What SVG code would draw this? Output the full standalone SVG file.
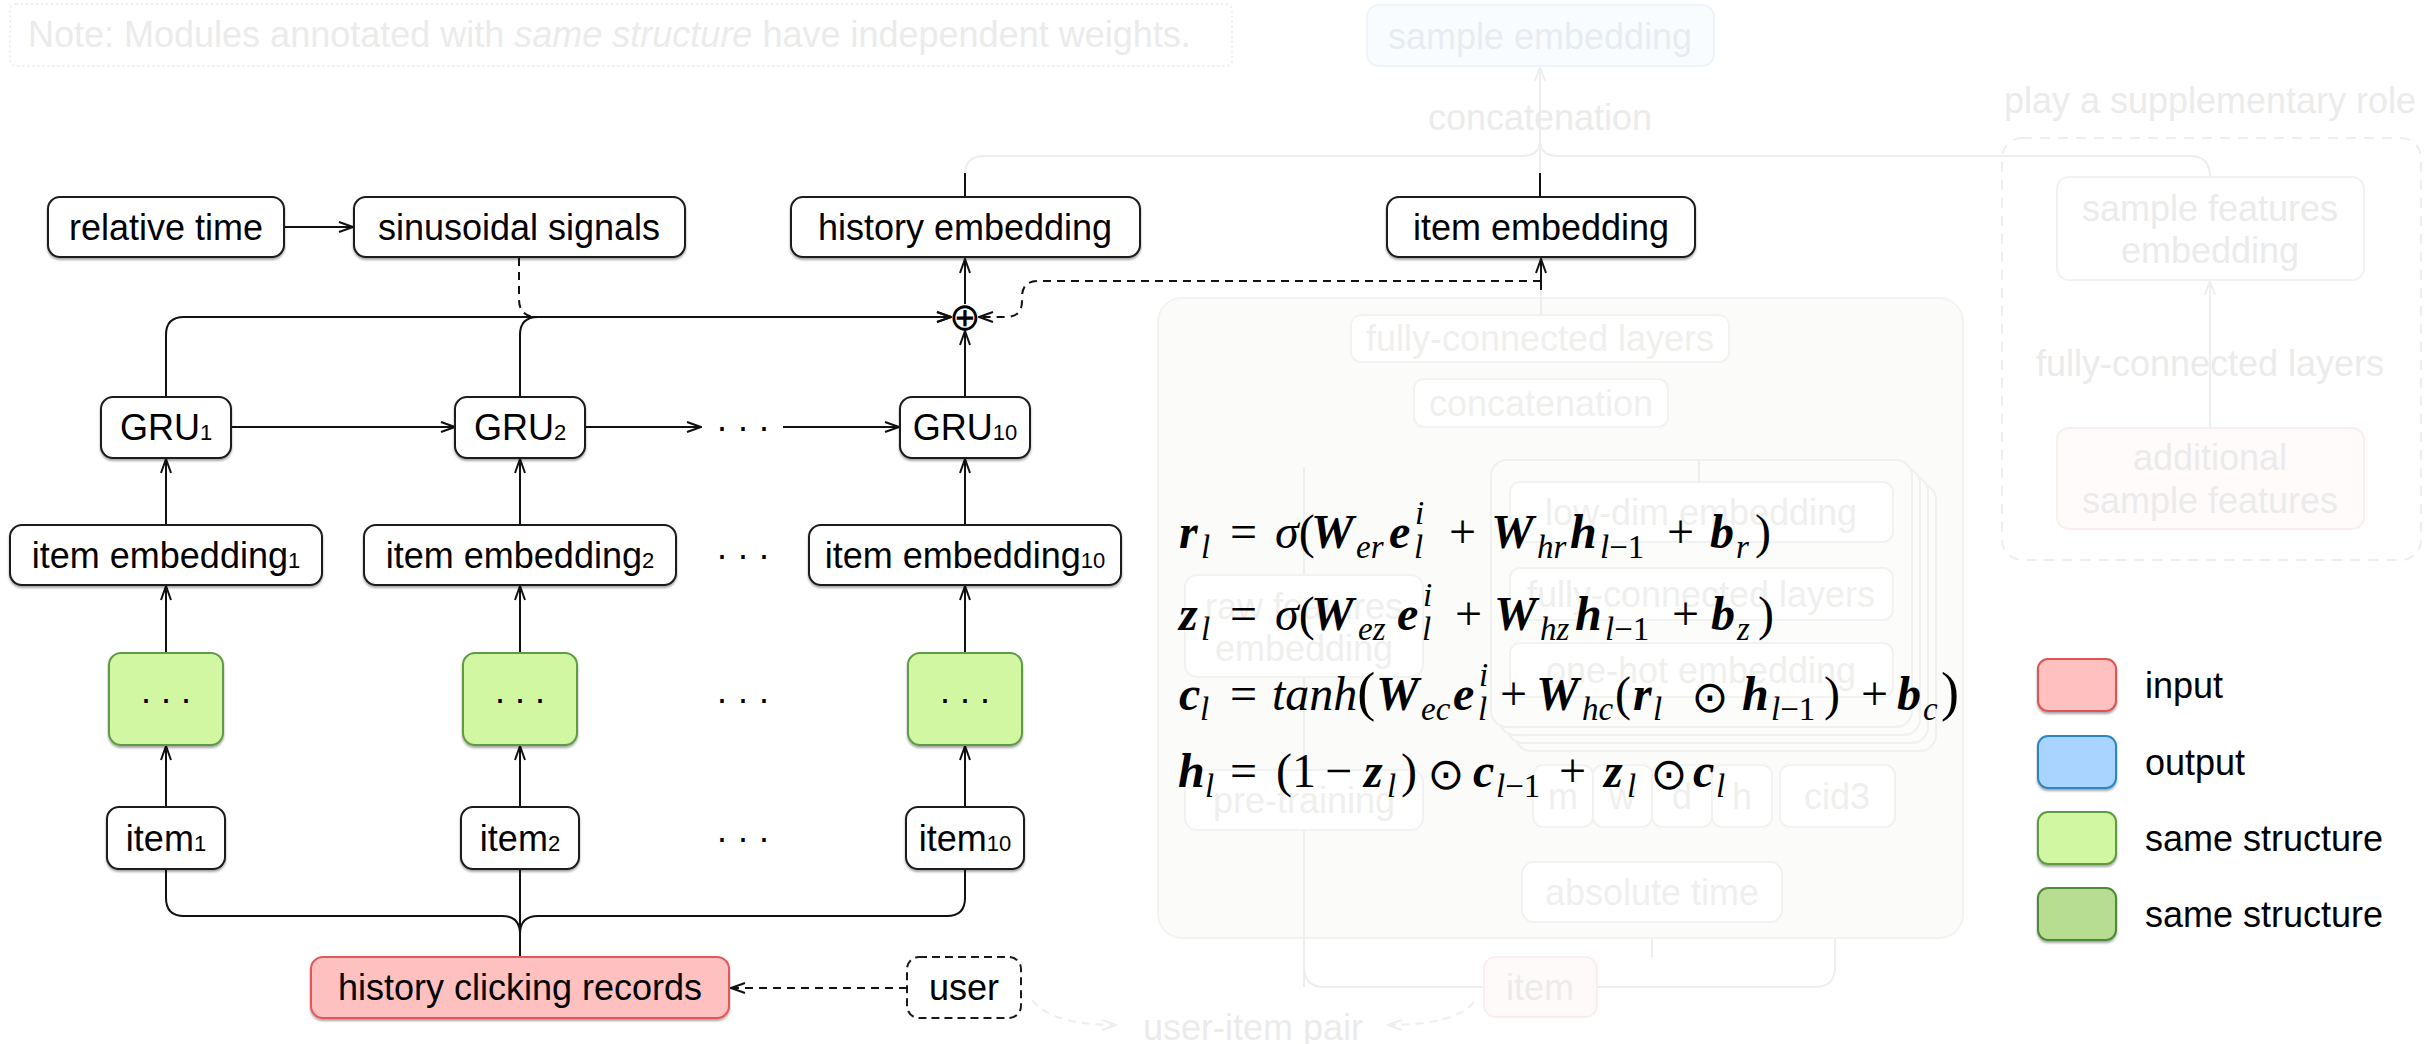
<svg xmlns="http://www.w3.org/2000/svg" width="2433" height="1044" viewBox="0 0 2433 1044">
<defs>
<style>
.t{font-family:"Liberation Sans",Arial,Helvetica,sans-serif;font-size:36px;fill:#000;text-anchor:middle}
.sub{font-size:22px}
.box{fill:#fff;stroke:#1a1a1a;stroke-width:2}
.sh{filter:url(#shadow)}
.green{fill:#d2f7a2;stroke:#5f9a44;stroke-width:2}
.red{fill:#ffc0c0;stroke:#e0585a;stroke-width:2}
.ln{fill:none;stroke:#111;stroke-width:2}
.arr{marker-end:url(#ah)}
.dash{stroke-dasharray:8 6}
.ft{font-family:"Liberation Sans",Arial,Helvetica,sans-serif;font-size:36px;fill:#ebebeb;text-anchor:middle}
.pt{fill:#efefed}
.fbox{fill:#fff;stroke:#f2f2f0;stroke-width:2}
.fln{fill:none;stroke:#eeeeee;stroke-width:2}
.farr{marker-end:url(#ahf)}
.m{font-family:"Liberation Serif","DejaVu Serif",serif;font-size:48px;fill:#000}
.bi{font-weight:bold;font-style:italic}
.it{font-style:italic}
.s{font-size:33px;font-style:italic;font-weight:normal}
.n{font-style:normal}
.op{font-family:"DejaVu Sans",sans-serif;font-size:44px;font-style:normal;font-weight:normal;text-anchor:middle}
</style>
<filter id="shadow" x="-10%" y="-20%" width="120%" height="150%">
<feDropShadow dx="0" dy="2" stdDeviation="1" flood-color="#000" flood-opacity="0.35"/>
</filter>
<marker id="ah" viewBox="0 0 16 12" refX="15" refY="6" markerWidth="16" markerHeight="12" orient="auto" markerUnits="userSpaceOnUse">
<path d="M1,1 L15,6 L1,11" fill="none" stroke="#111" stroke-width="2"/>
</marker>
<marker id="ahf" viewBox="0 0 16 12" refX="15" refY="6" markerWidth="16" markerHeight="12" orient="auto" markerUnits="userSpaceOnUse">
<path d="M1,1 L15,6 L1,11" fill="none" stroke="#eeeeee" stroke-width="2"/>
</marker>
</defs>

<rect x="0" y="0" width="2433" height="1044" fill="#fff"/>

<!-- faded context: note, sample embedding branch, feature panel -->
<g id="note">
<rect x="10" y="4" width="1222" height="62" rx="6" fill="none" stroke="#efefef" stroke-width="2" stroke-dasharray="2 3"/>
<text x="28" y="47" class="ft" style="text-anchor:start">Note: Modules annotated with <tspan font-style="italic">same structure</tspan> have independent weights.</text>
</g>

<g id="context-connectors">
<path class="fln" d="M965,175 Q965,156 984,156 H1522 Q1540,156 1540,140"/>
<path class="fln" d="M1540,140 Q1540,156 1558,156 H2190 Q2210,156 2210,177"/>
<path class="fln farr" d="M1540,173 V67"/>
<path class="fln" d="M1541,315 V290"/>
<path class="fln farr" d="M1541,379 V363"/>
<path class="fln" d="M1304,660 V467 Q1304,446 1325,446 H1521 Q1541,446 1541,428"/>
<path class="fln" d="M1541,428 Q1541,446 1561,446 H1680 Q1699,446 1699,465"/>
<path class="fln" d="M1484,987 H1324 Q1304,987 1304,967 V660"/>
<path class="fln farr" d="M1699,568 V543"/>
<path class="fln farr" d="M1699,643 V621"/>
<path class="fln" d="M1563,765 V735 Q1563,720 1578,720 H1637 Q1652,720 1652,710"/>
<path class="fln" d="M1742,765 V735 Q1742,720 1727,720 H1667 Q1652,720 1652,710"/>
<path class="fln" d="M1623,765 V720 M1682,765 V720"/>
<path class="fln farr" d="M1652,712 V698"/>
<path class="fln farr" d="M1835,765 V698"/>
<path class="fln" d="M1563,827 V832 Q1563,845 1578,845 H1637 Q1652,845 1652,857"/>
<path class="fln" d="M1742,827 V832 Q1742,845 1727,845 H1667 Q1652,845 1652,857"/>
<path class="fln" d="M1623,827 V845 M1682,827 V845 M1652,857 V862"/>
<path class="fln farr" d="M1652,957 V923"/>
<path class="fln" d="M1597,987 H1815 Q1835,987 1835,967 V827"/>
<path class="fln farr" d="M2210,428 V281"/>
<path class="fln farr" d="M1032,1000 Q1052,1025 1116,1025" stroke-dasharray="8 6"/>
<path class="fln farr" d="M1474,1002 Q1455,1025 1388,1025" stroke-dasharray="8 6"/>
</g>

<g id="sample-embedding">
<rect x="1367" y="5" width="347" height="61" rx="12" fill="#f9fcff" stroke="#edf4fb" stroke-width="2"/>
<text x="1540" y="49" class="ft" style="fill:#e8ecf0">sample embedding</text>
</g>
<text x="1540" y="130" class="ft">concatenation</text>

<g id="supplementary">
<text x="2210" y="113" class="ft">play a supplementary role</text>
<rect x="2002" y="138" width="419" height="422" rx="20" fill="none" stroke="#eeeeee" stroke-width="2" stroke-dasharray="10 8"/>
<g id="sample-features-embedding">
<rect x="2057" y="177" width="307" height="103" rx="12" class="fbox"/>
<text x="2210" y="221" class="ft">sample features</text>
<text x="2210" y="263" class="ft">embedding</text>
</g>
<text x="2210" y="376" class="ft">fully-connected layers</text>
<g id="additional-features">
<rect x="2057" y="428" width="307" height="101" rx="12" fill="#fffbfb" stroke="#fbeeee" stroke-width="2"/>
<text x="2210" y="470" class="ft">additional</text>
<text x="2210" y="513" class="ft">sample features</text>
</g>
</g>

<g id="item-tower">
<rect x="1158" y="298" width="805" height="640" rx="24" fill="#fbfbf9" stroke="#f3f3f1" stroke-width="2"/>
<path class="fln" d="M1541,298 V315"/>
<g id="fc-top"><rect x="1351" y="315" width="378" height="47" rx="10" class="fbox"/><text x="1540" y="351" class="ft pt">fully-connected layers</text></g>
<g id="concat-mid"><rect x="1414" y="379" width="254" height="48" rx="10" class="fbox"/><text x="1541" y="416" class="ft pt">concatenation</text></g>
<path class="fln" d="M1304,467 V987"/>
<g id="raw-features"><rect x="1185" y="575" width="238" height="102" rx="12" class="fbox"/><text x="1304" y="619" class="ft pt">raw features</text><text x="1304" y="661" class="ft pt">embedding</text></g>
<g id="pre-training"><rect x="1185" y="770" width="238" height="60" rx="12" class="fbox"/><text x="1304" y="813" class="ft pt">pre-training</text></g>
<g id="stack">
<rect x="1515" y="484" width="421" height="267" rx="16" fill="#fcfcfb" stroke="#f0f0ee" stroke-width="2"/>
<rect x="1507" y="476" width="421" height="267" rx="16" fill="#fcfcfb" stroke="#f0f0ee" stroke-width="2"/>
<rect x="1499" y="468" width="421" height="267" rx="16" fill="#fcfcfb" stroke="#f0f0ee" stroke-width="2"/>
<rect x="1491" y="460" width="421" height="267" rx="16" fill="#fcfcfb" stroke="#f0f0ee" stroke-width="2"/>
<path class="fln" d="M1699,460 V482"/>
<g id="low-dim"><rect x="1510" y="482" width="383" height="60" rx="10" class="fbox"/><text x="1701" y="525" class="ft pt">low-dim embedding</text></g>
<g id="fc-inner"><rect x="1510" y="568" width="383" height="52" rx="10" class="fbox"/><text x="1701" y="607" class="ft pt">fully-connected layers</text></g>
<g id="one-hot"><rect x="1510" y="643" width="383" height="54" rx="10" class="fbox"/><text x="1701" y="683" class="ft pt">one-hot embedding</text></g>
</g>
<g id="feat-m"><rect x="1533" y="765" width="60" height="62" rx="10" class="fbox"/><text x="1563" y="809" class="ft pt">m</text></g>
<g id="feat-w"><rect x="1593" y="765" width="59" height="62" rx="10" class="fbox"/><text x="1622" y="809" class="ft pt">w</text></g>
<g id="feat-d"><rect x="1652" y="765" width="60" height="62" rx="10" class="fbox"/><text x="1682" y="809" class="ft pt">d</text></g>
<g id="feat-h"><rect x="1712" y="765" width="60" height="62" rx="10" class="fbox"/><text x="1742" y="809" class="ft pt">h</text></g>
<g id="feat-cid3"><rect x="1780" y="765" width="115" height="62" rx="10" class="fbox"/><text x="1837" y="809" class="ft pt">cid3</text></g>
<g id="absolute-time"><rect x="1522" y="862" width="260" height="60" rx="12" class="fbox"/><text x="1652" y="905" class="ft pt">absolute time</text></g>
</g>
<g id="item-input">
<rect x="1484" y="957" width="113" height="60" rx="12" fill="#fffafa" stroke="#fbeeee" stroke-width="2"/>
<text x="1540" y="1000" class="ft">item</text>
</g>
<text x="1253" y="1040" class="ft">user-item pair</text>

<!-- main sequence model connectors -->
<g id="connectors">
<path class="ln arr" d="M284,227 H353"/>
<path class="ln arr" d="M166,397 V335 Q166,317 184,317 H951"/>
<path class="ln" d="M520,397 V335 Q520,317 538,317"/>
<path class="ln dash arr" d="M519,258 V299 Q519,317 537,317 H951"/>
<path class="ln arr" d="M965,397 V331"/>
<path class="ln arr" d="M965,304 V259"/>
<path class="ln dash arr" d="M1541,281 H1038 Q1022,281 1022,297 V301 Q1022,317 1006,317 H979"/>
<path class="ln arr" d="M1541,290 V259"/>
<path class="ln" d="M965,197 V173 M1540,197 V173"/>
<path class="ln arr" d="M231,427 H455"/>
<path class="ln arr" d="M585,427 H701"/>
<path class="ln arr" d="M783,427 H899"/>
<path class="ln arr" d="M166,525 V459"/>
<path class="ln arr" d="M520,525 V459"/>
<path class="ln arr" d="M965,525 V459"/>
<path class="ln arr" d="M166,653 V586"/>
<path class="ln arr" d="M520,653 V586"/>
<path class="ln arr" d="M965,653 V586"/>
<path class="ln arr" d="M166,807 V746"/>
<path class="ln arr" d="M520,807 V746"/>
<path class="ln arr" d="M965,807 V746"/>
<path class="ln" d="M166,869 V898 Q166,916 184,916 H502 Q520,916 520,934"/>
<path class="ln" d="M965,869 V898 Q965,916 947,916 H538 Q520,916 520,934"/>
<path class="ln" d="M520,957 V869"/>
<path class="ln dash arr" d="M907,988 H731"/>
</g>

<g id="relative-time"><rect x="48" y="197" width="236" height="60" rx="12" class="box sh"/><text x="166" y="240" class="t">relative time</text></g>
<g id="sinusoidal-signals"><rect x="354" y="197" width="331" height="60" rx="12" class="box sh"/><text x="519" y="240" class="t">sinusoidal signals</text></g>
<g id="history-embedding"><rect x="791" y="197" width="349" height="60" rx="12" class="box sh"/><text x="965" y="240" class="t">history embedding</text></g>
<g id="item-embedding"><rect x="1387" y="197" width="308" height="60" rx="12" class="box sh"/><text x="1541" y="240" class="t">item embedding</text></g>
<g id="sum"><text x="965" y="330" style="font-family:'DejaVu Sans',sans-serif;font-size:38px;text-anchor:middle">⊕</text></g>

<g id="gru-1"><rect x="101" y="397" width="130" height="61" rx="12" class="box sh"/><text x="166" y="440" class="t">GRU<tspan class="sub">1</tspan></text></g>
<g id="gru-2"><rect x="455" y="397" width="130" height="61" rx="12" class="box sh"/><text x="520" y="440" class="t">GRU<tspan class="sub">2</tspan></text></g>
<g id="gru-10"><rect x="900" y="397" width="130" height="61" rx="12" class="box sh"/><text x="965" y="440" class="t">GRU<tspan class="sub">10</tspan></text></g>
<text class="t" y="439"><tspan x="722">·</tspan><tspan x="743">·</tspan><tspan x="764">·</tspan></text>

<g id="item-embedding-1"><rect x="10" y="525" width="312" height="60" rx="12" class="box sh"/><text x="166" y="568" class="t">item embedding<tspan class="sub">1</tspan></text></g>
<g id="item-embedding-2"><rect x="364" y="525" width="312" height="60" rx="12" class="box sh"/><text x="520" y="568" class="t">item embedding<tspan class="sub">2</tspan></text></g>
<g id="item-embedding-10"><rect x="809" y="525" width="312" height="60" rx="12" class="box sh"/><text x="965" y="568" class="t">item embedding<tspan class="sub">10</tspan></text></g>
<text class="t" y="567"><tspan x="722">·</tspan><tspan x="743">·</tspan><tspan x="764">·</tspan></text>

<g id="module-1"><rect x="109" y="653" width="114" height="92" rx="12" class="green sh"/><text class="t" y="711"><tspan x="146">·</tspan><tspan x="166">·</tspan><tspan x="186">·</tspan></text></g>
<g id="module-2"><rect x="463" y="653" width="114" height="92" rx="12" class="green sh"/><text class="t" y="711"><tspan x="500">·</tspan><tspan x="520">·</tspan><tspan x="540">·</tspan></text></g>
<g id="module-10"><rect x="908" y="653" width="114" height="92" rx="12" class="green sh"/><text class="t" y="711"><tspan x="945">·</tspan><tspan x="965">·</tspan><tspan x="985">·</tspan></text></g>
<text class="t" y="711"><tspan x="722">·</tspan><tspan x="743">·</tspan><tspan x="764">·</tspan></text>

<g id="item-1"><rect x="107" y="807" width="118" height="62" rx="12" class="box sh"/><text x="166" y="851" class="t">item<tspan class="sub">1</tspan></text></g>
<g id="item-2"><rect x="461" y="807" width="118" height="62" rx="12" class="box sh"/><text x="520" y="851" class="t">item<tspan class="sub">2</tspan></text></g>
<g id="item-10"><rect x="906" y="807" width="118" height="62" rx="12" class="box sh"/><text x="965" y="851" class="t">item<tspan class="sub">10</tspan></text></g>
<text class="t" y="850"><tspan x="722">·</tspan><tspan x="743">·</tspan><tspan x="764">·</tspan></text>

<g id="history-clicking-records"><rect x="311" y="957" width="418" height="61" rx="12" class="red sh"/><text x="520" y="1000" class="t">history clicking records</text></g>
<g id="user"><rect x="907" y="957" width="114" height="61" rx="12" fill="#fff" stroke="#1a1a1a" stroke-width="2" stroke-dasharray="8 5"/><text x="964" y="1000" class="t">user</text></g>

<!-- GRU update equations -->
<g id="equations">
<text class="m"><tspan x="1179" y="548" class="bi">r</tspan><tspan x="1201" y="558" class="s">l</tspan><tspan x="1230" y="548">=</tspan><tspan x="1275" class="it">σ</tspan><tspan>(</tspan><tspan x="1311" class="bi">W</tspan><tspan x="1356" y="558" class="s">er</tspan><tspan x="1389" y="548" class="bi">e</tspan><tspan x="1415" y="524" class="s">i</tspan><tspan x="1414" y="558" class="s">l</tspan><tspan x="1449" y="548">+</tspan><tspan x="1491" class="bi">W</tspan><tspan x="1537" y="558" class="s">hr</tspan><tspan x="1570" y="548" class="bi">h</tspan><tspan x="1600" y="558" class="s">l</tspan><tspan class="s n">−1</tspan><tspan x="1667" y="548">+</tspan><tspan x="1710" class="bi">b</tspan><tspan x="1736" y="558" class="s">r</tspan><tspan x="1755" y="548">)</tspan></text>
<text class="m"><tspan x="1179" y="630" class="bi">z</tspan><tspan x="1201" y="640" class="s">l</tspan><tspan x="1230" y="630">=</tspan><tspan x="1275" class="it">σ</tspan><tspan>(</tspan><tspan x="1311" class="bi">W</tspan><tspan x="1358" y="640" class="s">ez</tspan><tspan x="1397" y="630" class="bi">e</tspan><tspan x="1423" y="606" class="s">i</tspan><tspan x="1422" y="640" class="s">l</tspan><tspan x="1455" y="630">+</tspan><tspan x="1494" class="bi">W</tspan><tspan x="1540" y="640" class="s">hz</tspan><tspan x="1575" y="630" class="bi">h</tspan><tspan x="1605" y="640" class="s">l</tspan><tspan class="s n">−1</tspan><tspan x="1672" y="630">+</tspan><tspan x="1711" class="bi">b</tspan><tspan x="1737" y="640" class="s">z</tspan><tspan x="1758" y="630">)</tspan></text>
<text class="m"><tspan x="1179" y="710" class="bi">c</tspan><tspan x="1200" y="720" class="s">l</tspan><tspan x="1230" y="710">=</tspan><tspan x="1272" class="it">tanh</tspan><tspan style="font-size:54px">(</tspan><tspan x="1376" class="bi">W</tspan><tspan x="1421" y="720" class="s">ec</tspan><tspan x="1453" y="710" class="bi">e</tspan><tspan x="1479" y="686" class="s">i</tspan><tspan x="1478" y="720" class="s">l</tspan><tspan x="1500" y="710">+</tspan><tspan x="1536" class="bi">W</tspan><tspan x="1582" y="720" class="s">hc</tspan><tspan x="1615" y="710">(</tspan><tspan x="1633" class="bi">r</tspan><tspan x="1653" y="720" class="s">l</tspan><tspan x="1710" y="712" class="op">⊙</tspan><tspan x="1742" y="710" class="bi">h</tspan><tspan x="1771" y="720" class="s">l</tspan><tspan class="s n">−1</tspan><tspan x="1824" y="710">)</tspan><tspan x="1861">+</tspan><tspan x="1897" class="bi">b</tspan><tspan x="1923" y="720" class="s">c</tspan><tspan x="1941" y="710" style="font-size:54px">)</tspan></text>
<text class="m"><tspan x="1178" y="787" class="bi">h</tspan><tspan x="1205" y="797" class="s">l</tspan><tspan x="1230" y="787">=</tspan><tspan x="1276">(</tspan><tspan x="1292">1</tspan><tspan x="1325">−</tspan><tspan x="1364" class="bi">z</tspan><tspan x="1387" y="797" class="s">l</tspan><tspan x="1401" y="787">)</tspan><tspan x="1446" y="789" class="op">⊙</tspan><tspan x="1473" y="787" class="bi">c</tspan><tspan x="1496" y="797" class="s">l</tspan><tspan class="s n">−1</tspan><tspan x="1559" y="787">+</tspan><tspan x="1604" class="bi">z</tspan><tspan x="1627" y="797" class="s">l</tspan><tspan x="1669" y="789" class="op">⊙</tspan><tspan x="1693" y="787" class="bi">c</tspan><tspan x="1716" y="797" class="s">l</tspan></text>
</g>

<g id="legend">
<g id="legend-input"><rect x="2038" y="659" width="78" height="52" rx="10" fill="#ffc0c0" stroke="#df5454" stroke-width="2" class="sh"/><text x="2145" y="698" class="t" style="text-anchor:start">input</text></g>
<g id="legend-output"><rect x="2038" y="736" width="78" height="52" rx="10" fill="#a9d4ff" stroke="#2a86c4" stroke-width="2" class="sh"/><text x="2145" y="775" class="t" style="text-anchor:start">output</text></g>
<g id="legend-same-1"><rect x="2038" y="812" width="78" height="52" rx="10" fill="#d2f7a2" stroke="#5f9a44" stroke-width="2" class="sh"/><text x="2145" y="851" class="t" style="text-anchor:start">same structure</text></g>
<g id="legend-same-2"><rect x="2038" y="888" width="78" height="52" rx="10" fill="#b6dd90" stroke="#4d8a3a" stroke-width="2" class="sh"/><text x="2145" y="927" class="t" style="text-anchor:start">same structure</text></g>
</g>
</svg>
